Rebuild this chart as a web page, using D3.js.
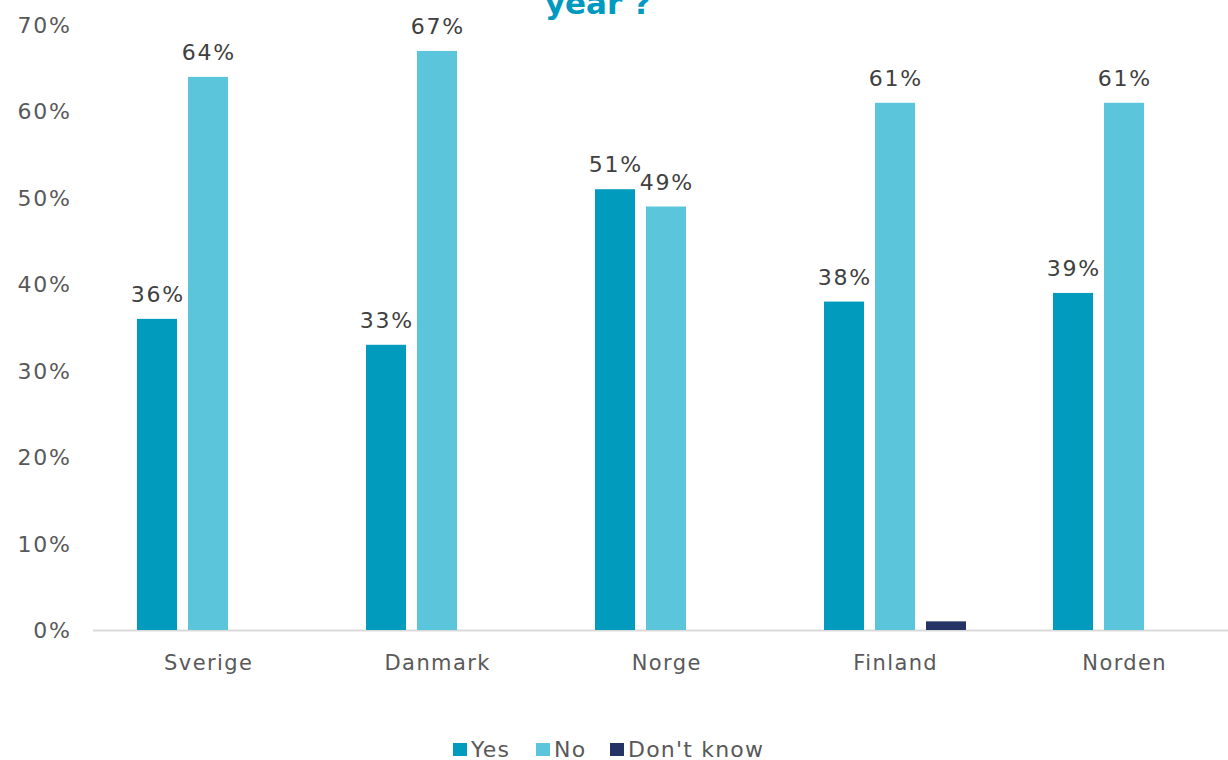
<!DOCTYPE html>
<html><head><meta charset="utf-8">
<script src="https://cdn.jsdelivr.net/npm/d3@7/dist/d3.min.js"></script>
<style>body{margin:0;background:#fff;overflow:hidden}svg{display:block}</style>
</head><body><svg id="c" width="1228" height="760"></svg>
<script>
const categories = ["Sverige","Danmark","Norge","Finland","Norden"];
const seriesNames = ["Yes","No","Don't know"];
const yesValues = [0.36,0.33,0.51,0.38,0.39];
const noValues = [0.64,0.67,0.49,0.61,0.61];
const dkValues = [0,0,0,0.01,0];
const yesLabels = ["36%","33%","51%","38%","39%"];
const noLabels = ["64%","67%","49%","61%","61%"];
const yTicks = [0,0.1,0.2,0.3,0.4,0.5,0.6,0.7];
const colors = ["#009BBD","#5BC5DB","#253464"];

const svg = d3.select("#c");
const font = "DejaVu Sans, Verdana, sans-serif";
const x = d3.scaleBand().domain(categories).range([93.5,1238.5]);
const y = d3.scaleLinear().domain([0,0.7]).range([630,25]);
const barW = 40, gap = 11;
const series = [yesValues,noValues,dkValues];
const labels = [yesLabels,noLabels,null];
const numLS = 1.8, txtLS = 1.4;

// title (last line visible)
svg.append("text").attr("x",598).attr("y",14).attr("text-anchor","middle")
  .attr("font-family",font).attr("font-weight","bold").attr("font-size",31)
  .attr("fill","#0099C0").text("year ?");

// y ticks
svg.append("g").selectAll("text").data(yTicks).join("text")
  .attr("x",70+numLS).attr("y",d=>y(d)+8).attr("text-anchor","end")
  .attr("font-family",font).attr("font-size",22).attr("letter-spacing",numLS).attr("fill","#595959")
  .text(d=>d3.format(".0%")(d));

// axis line
svg.append("line").attr("x1",93).attr("x2",1228).attr("y1",630.5).attr("y2",630.5)
  .attr("stroke","#D9D9D9").attr("stroke-width",2);

series.forEach((vals,si)=>{
  const off = (si-1)*(barW+gap) - barW/2;
  svg.append("g").selectAll("rect").data(categories).join("rect")
    .attr("x",(c)=>x(c)+x.bandwidth()/2+off)
    .attr("y",(c,i)=>y(vals[i]))
    .attr("width",barW)
    .attr("height",(c,i)=>y(0)-y(vals[i]))
    .attr("fill",colors[si]);
  if(labels[si]){
    svg.append("g").selectAll("text").data(categories).join("text")
      .attr("x",(c)=>x(c)+x.bandwidth()/2+off+barW/2+numLS/2)
      .attr("y",(c,i)=>y(vals[i])-17)
      .attr("text-anchor","middle")
      .attr("font-family",font).attr("font-size",22).attr("letter-spacing",numLS).attr("fill","#404040")
      .text((c,i)=>labels[si][i]);
  }
});

// category labels
svg.append("g").selectAll("text").data(categories).join("text")
  .attr("x",c=>x(c)+x.bandwidth()/2+txtLS/2).attr("y",670).attr("text-anchor","middle")
  .attr("font-family",font).attr("font-size",21).attr("letter-spacing",txtLS).attr("fill","#595959").text(c=>c);

// legend
const legX = [453,536,610];
const lg = svg.append("g");
seriesNames.forEach((n,i)=>{
  lg.append("rect").attr("x",legX[i]).attr("y",743).attr("width",14).attr("height",13).attr("fill",colors[i]);
  lg.append("text").attr("x",legX[i]+18).attr("y",757).attr("font-family",font)
    .attr("font-size",22).attr("letter-spacing",1.2).attr("fill","#595959").text(n);
});
</script></body></html>
